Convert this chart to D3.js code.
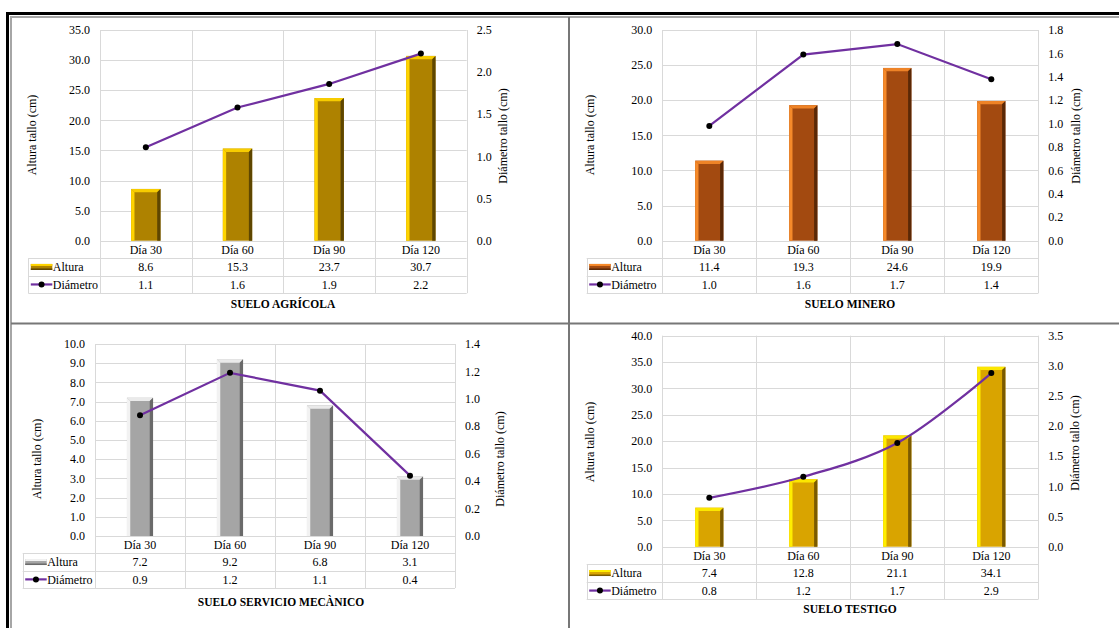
<!DOCTYPE html>
<html>
<head>
<meta charset="utf-8">
<script src="https://cdn.jsdelivr.net/npm/d3@7"></script>
<style>
  html, body { margin: 0; padding: 0; background: #fff; }
  svg, svg text { font-family: 'Liberation Serif', 'DejaVu Serif', serif; }
</style>
</head>
<body>
<svg id="chart" width="1119" height="628"></svg>
<script>
// ---------- DATA ----------
const categories = ["Día 30", "Día 60", "Día 90", "Día 120"];
const seriesNames = ["Altura", "Diámetro"];

const alturaAgricola = [8.6, 15.3, 23.7, 30.7];
const diametroAgricola = [1.11, 1.58, 1.86, 2.22];
const alturaMinero = [11.4, 19.3, 24.6, 19.9];
const diametroMinero = [0.98, 1.59, 1.68, 1.38];
const alturaServicio = [7.2, 9.2, 6.8, 3.1];
const diametroServicio = [0.88, 1.19, 1.06, 0.44];
const alturaTestigo = [7.4, 12.8, 21.1, 34.1];
const diametroTestigo = [0.81, 1.16, 1.72, 2.88];

const ticksAlturaAgricola = [0, 5, 10, 15, 20, 25, 30, 35];
const ticksDiametroAgricola = [0, 0.5, 1.0, 1.5, 2.0, 2.5];
const ticksAlturaMinero = [0, 5, 10, 15, 20, 25, 30];
const ticksDiametroMinero = [0, 0.2, 0.4, 0.6, 0.8, 1.0, 1.2, 1.4, 1.6, 1.8];
const ticksAlturaServicio = [0, 1, 2, 3, 4, 5, 6, 7, 8, 9, 10];
const ticksDiametroServicio = [0, 0.2, 0.4, 0.6, 0.8, 1.0, 1.2, 1.4];
const ticksAlturaTestigo = [0, 5, 10, 15, 20, 25, 30, 35, 40];
const ticksDiametroTestigo = [0, 0.5, 1.0, 1.5, 2.0, 2.5, 3.0, 3.5];

const titles = ["SUELO AGRÍCOLA", "SUELO MINERO", "SUELO SERVICIO MECÀNICO", "SUELO TESTIGO"];
const leftAxisTitle = "Altura tallo (cm)";
const rightAxisTitle = "Diámetro tallo (cm)";

// ---------- LAYOUT / STYLE ----------
const panels = [
  { altura: alturaAgricola, diam: diametroAgricola, tL: ticksAlturaAgricola, tR: ticksDiametroAgricola, title: titles[0],
    plotL: 100, plotR: 466.7, plotT: 30, plotB: 240.7, tableL: 28.3, rowH: 17.5,
    leftTitleX: 32, leftTitleY: 135, rightTitleX: 503, rightTitleY: 136, titleX: 283, titleY: 304,
    barFrac: 0.32, smooth: false,
    colors: { base: "#AE8200", light: "#FFD400", dark: "#5E4600" } },
  { altura: alturaMinero, diam: diametroMinero, tL: ticksAlturaMinero, tR: ticksDiametroMinero, title: titles[1],
    plotL: 662.3, plotR: 1038.3, plotT: 30, plotB: 240.7, tableL: 586.7, rowH: 17.5,
    leftTitleX: 590, leftTitleY: 135, rightTitleX: 1076, rightTitleY: 136, titleX: 850, titleY: 304,
    barFrac: 0.30, smooth: false,
    colors: { base: "#A34A10", light: "#F68A2A", dark: "#5A2806" } },
  { altura: alturaServicio, diam: diametroServicio, tL: ticksAlturaServicio, tR: ticksDiametroServicio, title: titles[2],
    plotL: 95, plotR: 455, plotT: 344, plotB: 536, tableL: 22.7, rowH: 17.35,
    leftTitleX: 37, leftTitleY: 459, rightTitleX: 500, rightTitleY: 459, titleX: 281, titleY: 602,
    barFrac: 0.29, smooth: false,
    colors: { base: "#A5A5A5", light: "#F2F2F2", dark: "#6A6A6A" } },
  { altura: alturaTestigo, diam: diametroTestigo, tL: ticksAlturaTestigo, tR: ticksDiametroTestigo, title: titles[3],
    plotL: 662.3, plotR: 1038.3, plotT: 335.7, plotB: 546.7, tableL: 586.7, rowH: 17.55,
    leftTitleX: 590, leftTitleY: 442, rightTitleX: 1075, rightTitleY: 443, titleX: 850, titleY: 609,
    barFrac: 0.30, smooth: true,
    colors: { base: "#D9A400", light: "#FFEE00", dark: "#7A5A00" } }
];

const fontFamily = "'Liberation Serif', 'DejaVu Serif', serif";
const gridColor = "#D9D9D9";
const lineColor = "#7030A0";
const textColor = "#000";
const fs = 12;
const fmt = d3.format(".1f");

const svg = d3.select("#chart").attr("font-family", fontFamily);

// ---------- FRAME ----------
const frame = svg.append("g");
frame.append("rect").attr("x", 7.5).attr("y", 13.5).attr("width", 1130).attr("height", 640)
  .attr("fill", "none").attr("stroke", "#000").attr("stroke-width", 3);
frame.append("rect").attr("x", 11).attr("y", 17).attr("width", 1130).attr("height", 640)
  .attr("fill", "none").attr("stroke", "#A6A6A6").attr("stroke-width", 2);
frame.append("line").attr("x1", 569).attr("x2", 569).attr("y1", 17).attr("y2", 628)
  .attr("stroke", "#777").attr("stroke-width", 2);
frame.append("line").attr("x1", 11).attr("x2", 1119).attr("y1", 323.5).attr("y2", 323.5)
  .attr("stroke", "#777").attr("stroke-width", 2);

// ---------- PANELS ----------
panels.forEach(p => {
  const g = svg.append("g").attr("font-family", fontFamily);
  const x = d3.scaleBand().domain(categories).range([p.plotL, p.plotR]).padding(0);
  const yL = d3.scaleLinear().domain([0, d3.max(p.tL)]).range([p.plotB, p.plotT]);
  const yR = d3.scaleLinear().domain([0, d3.max(p.tR)]).range([p.plotB, p.plotT]);
  const tableB = p.plotB + 3 * p.rowH;

  // horizontal gridlines
  g.selectAll(".hg").data(p.tL).enter().append("line")
    .attr("x1", p.plotL).attr("x2", p.plotR)
    .attr("y1", d => Math.round(yL(d)) + 0.5).attr("y2", d => Math.round(yL(d)) + 0.5)
    .attr("stroke", gridColor).attr("stroke-width", 1);

  // vertical band lines (plot + table)
  const bounds = categories.map(c => x(c)).concat([p.plotR]);
  g.selectAll(".vg").data(bounds).enter().append("line")
    .attr("x1", d => Math.round(d) + 0.5).attr("x2", d => Math.round(d) + 0.5)
    .attr("y1", p.plotT).attr("y2", tableB)
    .attr("stroke", gridColor).attr("stroke-width", 1);

  // table horizontal lines
  [1, 2, 3].forEach(i => {
    const yy = Math.round(p.plotB + i * p.rowH) + 0.5;
    g.append("line").attr("x1", p.tableL).attr("x2", p.plotR).attr("y1", yy).attr("y2", yy)
      .attr("stroke", gridColor).attr("stroke-width", 1);
  });
  g.append("line").attr("x1", Math.round(p.tableL) + 0.5).attr("x2", Math.round(p.tableL) + 0.5)
    .attr("y1", p.plotB + p.rowH).attr("y2", tableB).attr("stroke", gridColor).attr("stroke-width", 1);

  // bars with bevel
  const bw = x.bandwidth() * p.barFrac;
  const b = 3.3;
  const bars = g.selectAll(".bar").data(p.altura).enter().append("g");
  bars.each(function(v, i) {
    const gx = d3.select(this);
    const x0 = x(categories[i]) + (x.bandwidth() - bw) / 2;
    const x1 = x0 + bw;
    const y0 = yL(v), y1 = yL(0);
    gx.append("rect").attr("x", x0).attr("y", y0).attr("width", bw).attr("height", y1 - y0).attr("fill", p.colors.base);
    gx.append("polygon").attr("points", [[x0, y0], [x0 + b, y0 + b], [x0 + b, y1], [x0, y1]].join(" ")).attr("fill", p.colors.light);
    gx.append("polygon").attr("points", [[x0, y0], [x1, y0], [x1 - b, y0 + b], [x0 + b, y0 + b]].join(" ")).attr("fill", p.colors.light).attr("opacity", 0.9);
    gx.append("polygon").attr("points", [[x1, y0], [x1, y1], [x1 - b, y1], [x1 - b, y0 + b]].join(" ")).attr("fill", p.colors.dark);
  });

  // line
  const line = d3.line()
    .x((d, i) => x(categories[i]) + x.bandwidth() / 2)
    .y(d => yR(d))
    .curve(p.smooth ? d3.curveCatmullRom.alpha(0.5) : d3.curveLinear);
  g.append("path").datum(p.diam).attr("d", line)
    .attr("fill", "none").attr("stroke", lineColor).attr("stroke-width", 2.2);
  g.selectAll(".dot").data(p.diam).enter().append("circle")
    .attr("cx", (d, i) => x(categories[i]) + x.bandwidth() / 2)
    .attr("cy", d => yR(d)).attr("r", 3).attr("fill", "#000");

  // left tick labels
  g.selectAll(".tl").data(p.tL).enter().append("text")
    .attr("x", p.plotL - 10).attr("y", d => yL(d)).attr("dy", "0.35em")
    .attr("text-anchor", "end").attr("font-size", fs).attr("fill", textColor)
    .text(d => fmt(d));
  // right tick labels
  g.selectAll(".tr").data(p.tR).enter().append("text")
    .attr("x", p.plotR + 10).attr("y", d => yR(d)).attr("dy", "0.35em")
    .attr("text-anchor", "start").attr("font-size", fs).attr("fill", textColor)
    .text(d => fmt(d));

  // axis titles
  g.append("text").attr("transform", `translate(${p.leftTitleX},${p.leftTitleY}) rotate(-90)`)
    .attr("text-anchor", "middle").attr("dy", "0.35em").attr("font-size", fs).text(leftAxisTitle);
  g.append("text").attr("transform", `translate(${p.rightTitleX},${p.rightTitleY}) rotate(-90)`)
    .attr("text-anchor", "middle").attr("dy", "0.35em").attr("font-size", fs).text(rightAxisTitle);

  // category row
  g.selectAll(".cat").data(categories).enter().append("text")
    .attr("x", d => x(d) + x.bandwidth() / 2).attr("y", p.plotB + p.rowH / 2).attr("dy", "0.35em")
    .attr("text-anchor", "middle").attr("font-size", fs).text(d => d);

  // table values
  [p.altura, p.diam].forEach((arr, r) => {
    g.selectAll(".val" + r).data(arr).enter().append("text")
      .attr("x", (d, i) => x(categories[i]) + x.bandwidth() / 2)
      .attr("y", p.plotB + (r + 1.5) * p.rowH).attr("dy", "0.35em")
      .attr("text-anchor", "middle").attr("font-size", fs).text(d => fmt(d));
  });

  // legend keys
  const r1 = p.plotB + 1.5 * p.rowH, r2 = p.plotB + 2.5 * p.rowH;
  const kx0 = p.tableL + 2.5, kx1 = p.tableL + 24;
  g.append("rect").attr("x", kx0).attr("y", r1 - 3).attr("width", kx1 - kx0).attr("height", 6).attr("fill", p.colors.base);
  g.append("rect").attr("x", kx0).attr("y", r1 - 3).attr("width", kx1 - kx0).attr("height", 2).attr("fill", p.colors.light);
  g.append("rect").attr("x", kx0).attr("y", r1 + 1.5).attr("width", kx1 - kx0).attr("height", 1.5).attr("fill", p.colors.dark);
  g.append("line").attr("x1", kx0).attr("x2", kx1).attr("y1", r2).attr("y2", r2)
    .attr("stroke", lineColor).attr("stroke-width", 2.2);
  g.append("circle").attr("cx", (kx0 + kx1) / 2).attr("cy", r2).attr("r", 3).attr("fill", "#000");
  g.append("text").attr("x", kx1 + 0.5).attr("y", r1).attr("dy", "0.35em").attr("font-size", fs).text(seriesNames[0]);
  g.append("text").attr("x", kx1 + 0.5).attr("y", r2).attr("dy", "0.35em").attr("font-size", fs).text(seriesNames[1]);

  // title
  g.append("text").attr("x", p.titleX).attr("y", p.titleY).attr("dy", "0.35em")
    .attr("text-anchor", "middle").attr("font-size", 11.5).attr("font-weight", "bold").text(p.title);
});
</script>
</body>
</html>
